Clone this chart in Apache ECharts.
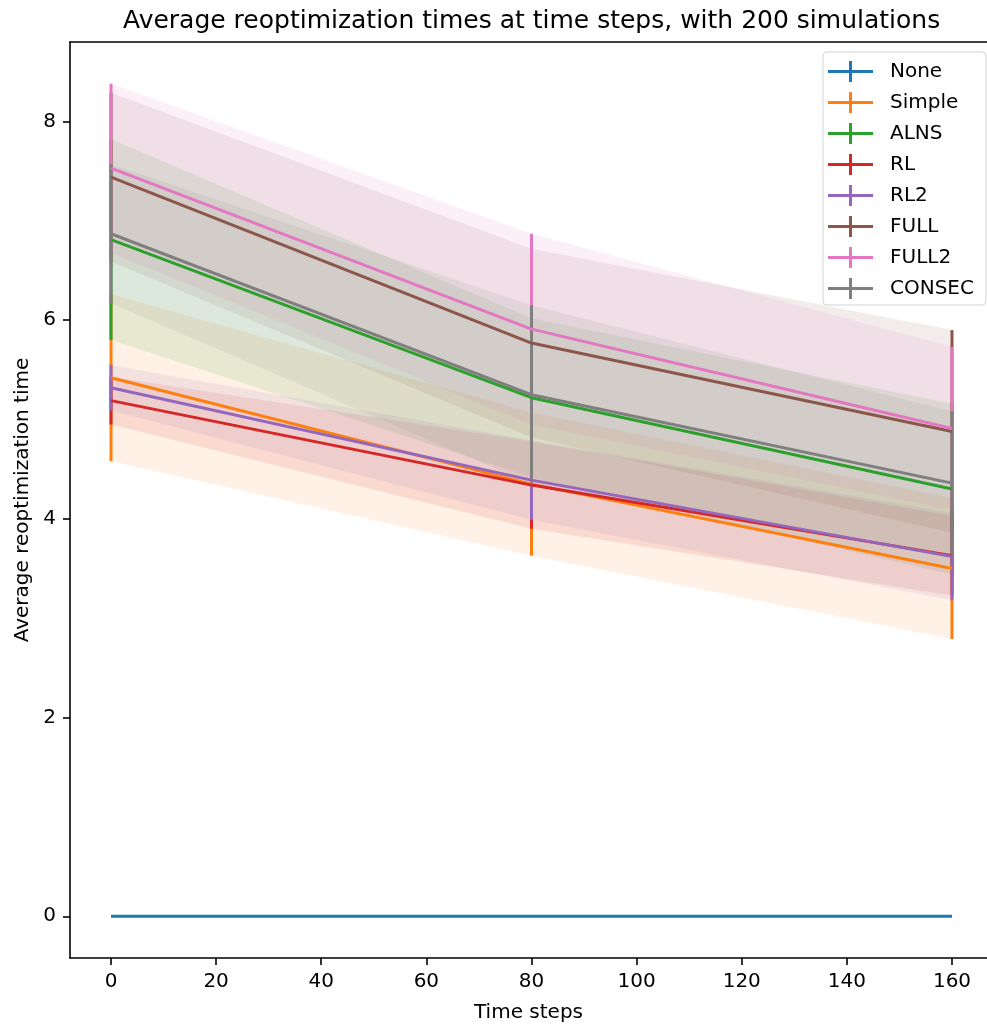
<!DOCTYPE html>
<html>
<head>
<meta charset="utf-8">
<script src="https://cdn.jsdelivr.net/npm/echarts@6/dist/echarts.min.js"></script>
<style>
  html, body { margin: 0; padding: 0; background: #fff; }
  #chart { width: 987px; height: 1028px; }
</style>
</head>
<body>
<div id="chart"></div>
<script>
// Time steps at which the reoptimization time was averaged
const timeSteps = [0, 80, 160];

// Mean and standard deviation per method
const meanNone = [0, 0, 0];
const stdNone = [0, 0, 0];
const meanSimple = [5.42, 4.35, 3.50];
const stdSimple = [0.84, 0.72, 0.71];
const meanALNS = [6.81, 5.22, 4.30];
const stdALNS = [1.01, 0.80, 0.86];
const meanRL = [5.19, 4.34, 3.63];
const stdRL = [0.24, 0.44, 0.40];
const meanRL2 = [5.32, 4.39, 3.62];
const stdRL2 = [0.23, 0.40, 0.44];
const meanFULL = [7.44, 5.77, 4.88];
const stdFULL = [0.85, 0.95, 1.02];
const meanFULL2 = [7.53, 5.91, 4.91];
const stdFULL2 = [0.85, 0.96, 0.82];
const meanCONSEC = [6.87, 5.25, 4.36];
const stdCONSEC = [0.70, 0.90, 0.72];

const methodNames = ['None', 'Simple', 'ALNS', 'RL', 'RL2', 'FULL', 'FULL2', 'CONSEC'];
const methodColors = ['#1f77b4', '#ff7f0e', '#2ca02c', '#d62728', '#9467bd', '#8c564b', '#e377c2', '#7f7f7f'];

// Axis tick labels
const xTickValues = [0, 20, 40, 60, 80, 100, 120, 140, 160];
const yTickValues = [0, 2, 4, 6, 8];

const methods = [
  { mean: meanNone, std: stdNone },
  { mean: meanSimple, std: stdSimple },
  { mean: meanALNS, std: stdALNS },
  { mean: meanRL, std: stdRL },
  { mean: meanRL2, std: stdRL2 },
  { mean: meanFULL, std: stdFULL },
  { mean: meanFULL2, std: stdFULL2 },
  { mean: meanCONSEC, std: stdCONSEC }
].map((m, i) => Object.assign({ name: methodNames[i], color: methodColors[i] }, m));

const FONT = 'DejaVu Sans';
// Line with a vertical error bar through its middle
const plusIcon = 'path://M0,9 L45,9 L45,12 L0,12 Z M21,0 L24,0 L24,21 L21,21 Z';

const X_MIN = -7.8, X_MAX = 166.66;

const series = [];

// Mean lines (drawn above the error bars)
methods.forEach(m => {
  series.push({
    name: m.name,
    type: 'line',
    z: 3,
    silent: true,
    symbol: 'none',
    color: m.color,
    lineStyle: { width: 3, color: m.color },
    data: timeSteps.map((t, i) => [t, m.mean[i]])
  });
});

// Vertical error bars (mean ± std)
methods.forEach(m => {
  series.push({
    name: m.name,
    type: 'custom',
    z: 2,
    silent: true,
    itemStyle: { color: m.color },
    encode: { x: 0, y: [1, 2] },
    data: timeSteps.map((t, i) => [t, m.mean[i] - m.std[i], m.mean[i] + m.std[i]]),
    renderItem: (params, api) => {
      const x = api.value(0), lo = api.value(1), hi = api.value(2);
      if (hi === lo) return null;
      const p1 = api.coord([x, lo]);
      const p2 = api.coord([x, hi]);
      return {
        type: 'line',
        shape: { x1: p1[0], y1: p1[1], x2: p2[0], y2: p2[1] },
        style: { stroke: m.color, lineWidth: 3 }
      };
    }
  });
});

// Translucent std bands
methods.forEach(m => {
  series.push({
    name: m.name,
    type: 'custom',
    z: 1,
    silent: true,
    itemStyle: { color: m.color },
    encode: { x: 0, y: [1, 2] },
    data: timeSteps.map((t, i) => [t, m.mean[i] - m.std[i], m.mean[i] + m.std[i]]),
    renderItem: (params, api) => {
      if (params.dataIndex !== 0) return null;
      const upper = timeSteps.map((t, i) => api.coord([t, m.mean[i] + m.std[i]]));
      const lower = timeSteps.map((t, i) => api.coord([t, m.mean[i] - m.std[i]])).reverse();
      return {
        type: 'polygon',
        shape: { points: upper.concat(lower) },
        style: { fill: m.color, opacity: 0.11 }
      };
    }
  });
});

const chart = echarts.init(document.getElementById('chart'), null, { renderer: 'canvas' });
chart.setOption({
  animation: false,
  backgroundColor: '#ffffff',
  title: {
    text: 'Average reoptimization times at time steps, with 200 simulations',
    left: 123,
    top: 9,
    padding: 0,
    textStyle: { fontFamily: FONT, fontSize: 25, fontWeight: 'normal', color: '#000' }
  },
  grid: { left: 70, top: 42, right: 0, bottom: 70 },
  legend: {
    orient: 'vertical',
    left: 823,
    top: 52,
    itemWidth: 45,
    itemHeight: 21,
    itemGap: 10,
    padding: [9, 12, 6, 5],
    selectedMode: false,
    backgroundColor: 'rgba(255,255,255,0.8)',
    borderColor: '#d3d3d3',
    borderWidth: 1,
    borderRadius: 4,
    textStyle: { fontFamily: FONT, fontSize: 20, color: '#000', padding: [0, 0, 0, 12] },
    data: methodNames.map(n => ({ name: n, icon: plusIcon }))
  },
  xAxis: [{
    type: 'value',
    min: X_MIN,
    max: X_MAX,
    position: 'bottom',
    name: 'Time steps',
    nameLocation: 'middle',
    nameGap: 45,
    nameTextStyle: { fontFamily: FONT, fontSize: 20, color: '#000' },
    axisLine: { show: true, onZero: false, lineStyle: { color: '#000', width: 1.6 } },
    axisTick: { show: true, length: 7, lineStyle: { color: '#000', width: 1.6 }, customValues: xTickValues },
    axisLabel: { fontFamily: FONT, fontSize: 20, color: '#000', margin: 14, customValues: xTickValues },
    splitLine: { show: false }
  }, {
    // top frame line
    type: 'value',
    min: X_MIN,
    max: X_MAX,
    position: 'top',
    axisLine: { show: true, onZero: false, lineStyle: { color: '#000', width: 1.6 } },
    axisTick: { show: false },
    axisLabel: { show: false },
    splitLine: { show: false }
  }],
  yAxis: {
    type: 'value',
    min: -0.42,
    max: 8.8,
    name: 'Average reoptimization time',
    nameLocation: 'middle',
    nameGap: 37,
    nameTextStyle: { fontFamily: FONT, fontSize: 20, color: '#000' },
    axisLine: { show: true, onZero: false, lineStyle: { color: '#000', width: 1.6 } },
    axisTick: { show: true, length: 7, lineStyle: { color: '#000', width: 1.6 }, customValues: yTickValues },
    axisLabel: { fontFamily: FONT, fontSize: 20, color: '#000', margin: 14, customValues: yTickValues },
    splitLine: { show: false }
  },
  series: series
});
</script>
</body>
</html>
